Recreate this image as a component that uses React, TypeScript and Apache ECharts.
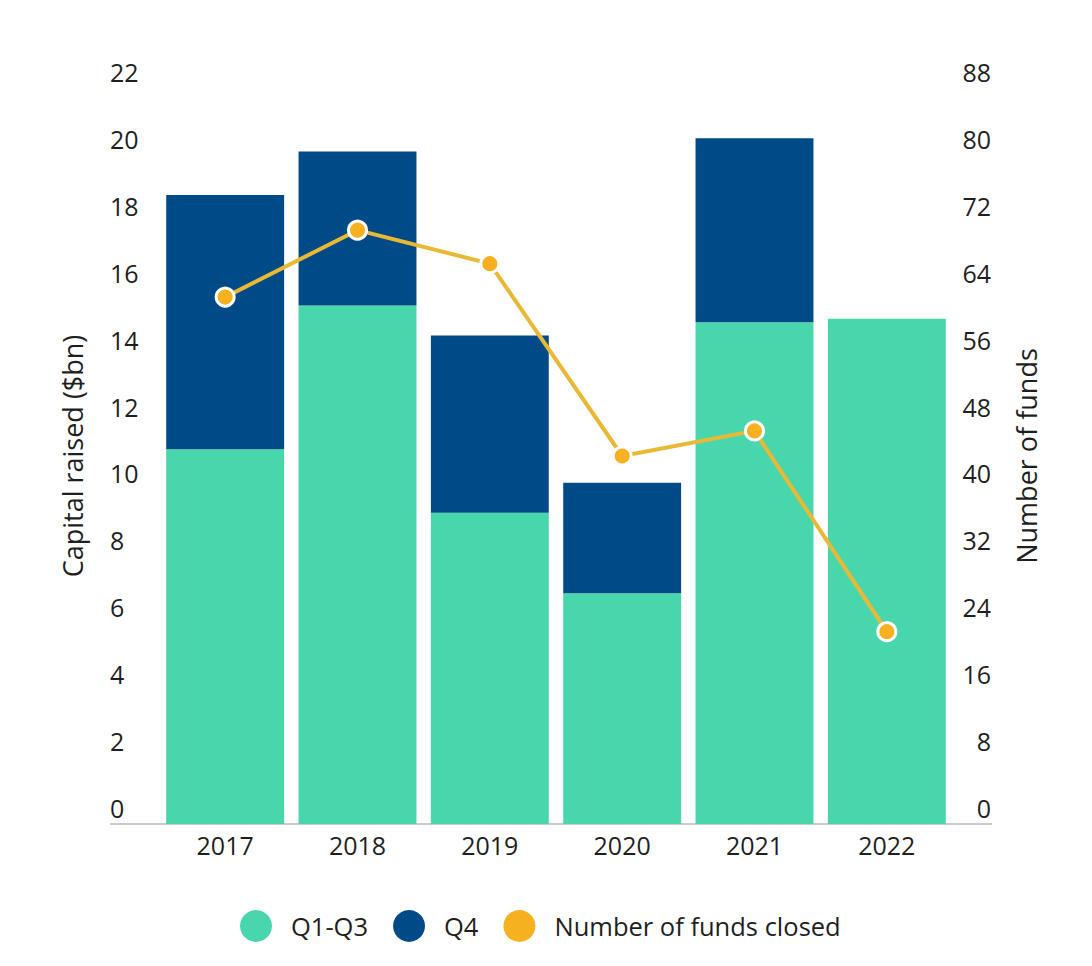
import React, { useEffect, useRef } from "react";
import * as echarts from "echarts";

// Fundraising by year
const years = ["2017", "2018", "2019", "2020", "2021", "2022"];
const q1q3 = [11.2, 15.5, 9.3, 6.9, 15.0, 15.1];
const q4 = [7.6, 4.6, 5.3, 3.3, 5.5, 0];
const fundsClosed = [63, 71, 67, 44, 47, 23];

const FONT = "'Open Sans', Lato, sans-serif";
const TEXT = "#1f1f1f";

export default function App() {
  const ref = useRef<HTMLDivElement>(null);

  useEffect(() => {
    if (!ref.current) return;
    const chart = echarts.init(ref.current, undefined, { renderer: "svg" });
    chart.setOption({
      animation: false,
      backgroundColor: "#ffffff",
      textStyle: { fontFamily: FONT, color: TEXT },
      grid: { left: 159, right: 139, top: 88, bottom: 142 },
      legend: {
        left: 235,
        top: 905,
        icon: "circle",
        itemWidth: 32,
        itemHeight: 32,
        itemGap: 25,
        textStyle: {
          fontFamily: FONT,
          fontSize: 25.5,
          color: TEXT,
          padding: [0, 0, 0, 14],
        },
        data: [
          { name: "Q1-Q3" },
          { name: "Q4" },
          { name: "Number of funds closed", itemStyle: { borderWidth: 0 } },
        ],
      },
      graphic: [
        {
          type: "line",
          z: 0,
          shape: { x1: 110, y1: 824, x2: 992, y2: 824 },
          style: { stroke: "#cbcbcb", lineWidth: 2 },
        },
      ],
      xAxis: {
        type: "category",
        data: years,
        axisLine: { show: false },
        axisTick: { show: false },
        axisLabel: {
          fontFamily: FONT,
          fontSize: 25,
          color: TEXT,
          margin: 8,
        },
      },
      yAxis: [
        {
          type: "value",
          min: 0,
          max: 22,
          interval: 2,
          name: "Capital raised ($bn)",
          nameLocation: "middle",
          nameGap: 73,
          nameTextStyle: { fontFamily: FONT, fontSize: 27, color: TEXT },
          axisLine: { show: false },
          axisTick: { show: false },
          splitLine: { show: false },
          axisLabel: {
            fontFamily: FONT,
            fontSize: 25,
            color: TEXT,
            align: "left",
            margin: 49,
            verticalAlign: "bottom",
            lineHeight: 32,
          },
        },
        {
          type: "value",
          min: 0,
          max: 88,
          interval: 8,
          position: "right",
          name: "Number of funds",
          nameLocation: "middle",
          nameGap: 60,
          nameRotate: 90,
          nameTextStyle: { fontFamily: FONT, fontSize: 27, color: TEXT },
          axisLine: { show: false },
          axisTick: { show: false },
          splitLine: { show: false },
          axisLabel: {
            fontFamily: FONT,
            fontSize: 25,
            color: TEXT,
            align: "right",
            margin: 38,
            verticalAlign: "bottom",
            lineHeight: 32,
          },
        },
      ],
      series: [
        {
          name: "Q1-Q3",
          type: "bar",
          stack: "capital",
          barCategoryGap: "10.9%",
          itemStyle: { color: "#48D7AD" },
          data: q1q3,
        },
        {
          name: "Q4",
          type: "bar",
          stack: "capital",
          itemStyle: { color: "#004A87" },
          data: q4,
        },
        {
          name: "Number of funds closed",
          type: "line",
          yAxisIndex: 1,
          symbol: "circle",
          symbolSize: 18,
          z: 5,
          itemStyle: { color: "#F7B01F", borderColor: "#ffffff", borderWidth: 3 },
          lineStyle: { color: "#E9B935", width: 4 },
          data: fundsClosed,
        },
      ],
    });
    return () => chart.dispose();
  }, []);

  return (
    <div
      ref={ref}
      style={{ position: "fixed", left: 0, top: 0, width: 1092, height: 966 }}
    />
  );
}
